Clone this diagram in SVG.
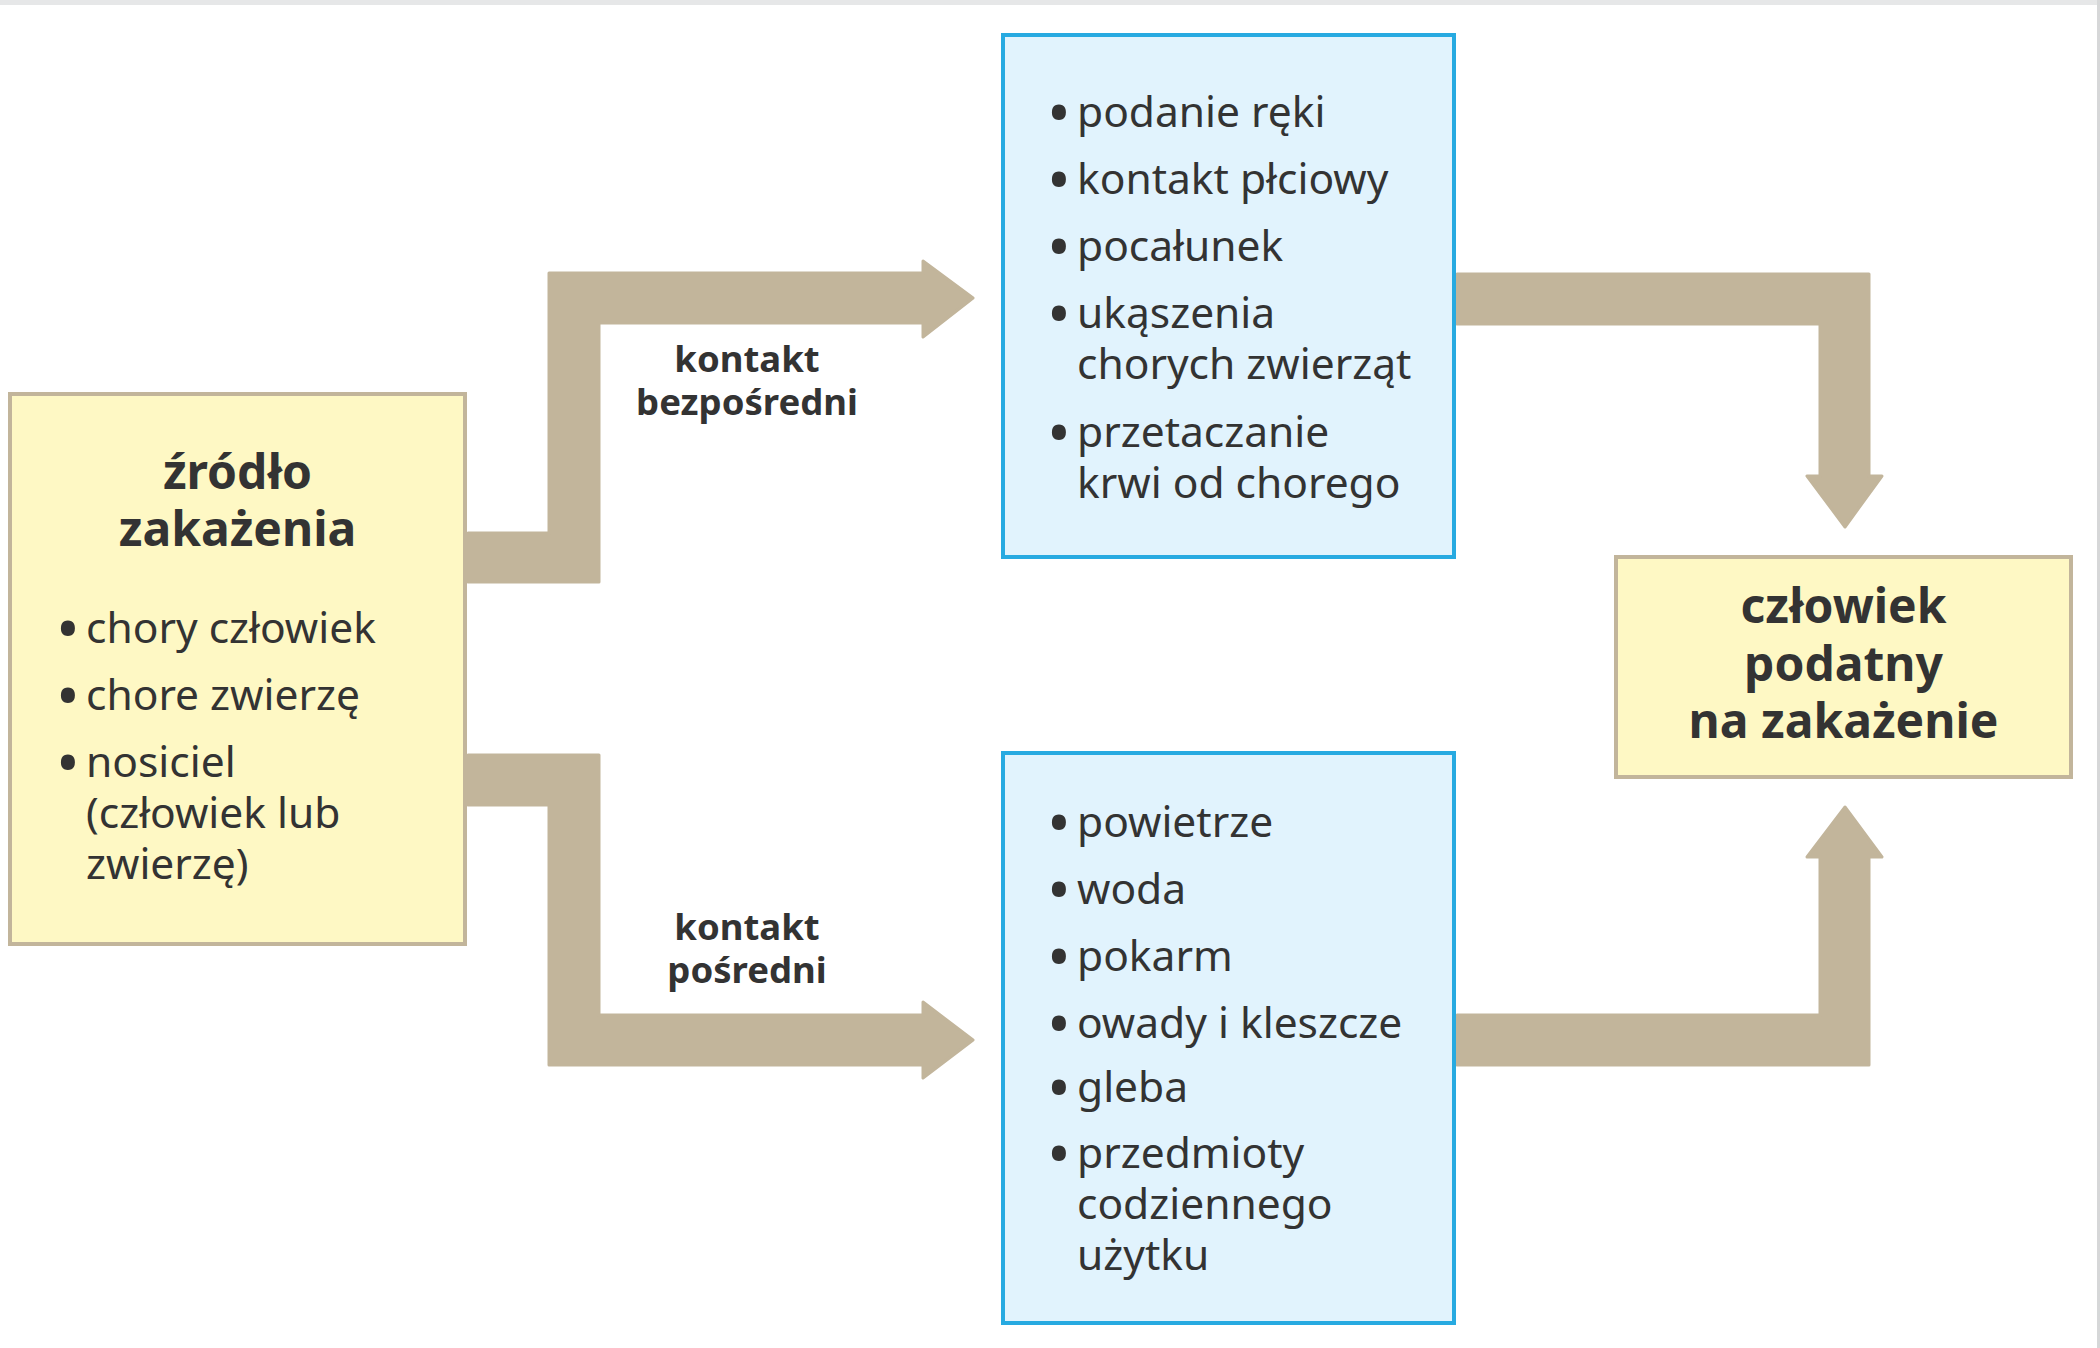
<svg xmlns="http://www.w3.org/2000/svg" width="2100" height="1348" viewBox="0 0 2100 1348">
  <style>
    .yel { fill: #fef8c4; stroke: #c2b59b; stroke-width: 4; }
    .blu { fill: #e1f3fd; stroke: #27aae1; stroke-width: 4; }
    .arr { fill: #c2b59b; stroke: #c2b59b; stroke-width: 3; stroke-linejoin: round; }
    .t { font-family: "Noto Sans", "Open Sans", sans-serif; fill: #333333; }
    .title { font-size: 48px; font-weight: bold; text-anchor: middle; }
    .item { font-size: 42.5px; }
    .dot { font-size: 50px; font-weight: bold; text-anchor: middle; }
    .lbl { font-size: 36.5px; font-weight: bold; text-anchor: middle; }
  </style>
  <rect x="0" y="0" width="2100" height="1348" fill="#ffffff"/>
  <rect x="0" y="0" width="2100" height="5" fill="#e6e7e8"/>
  <rect x="2097" y="0" width="3" height="1348" fill="#d6d7d8"/>

  <g id="connectors">
    <polygon class="arr" points="468,533 549,533 549,273 923,273 923,261 973,298 923,337 923,323 599,323 599,582 468,582"/>
    <polygon class="arr" points="468,755 599,755 599,1015 923,1015 923,1002 973,1040 923,1078 923,1065 549,1065 549,805 468,805"/>
    <polygon class="arr" points="1457,274 1869,274 1869,476 1882,476 1845,527 1807,476 1820,476 1820,324 1457,324"/>
    <polygon class="arr" points="1457,1015 1820,1015 1820,857 1807,857 1845,807 1882,857 1869,857 1869,1065 1457,1065"/>
    <g id="label-direct" class="t lbl">
      <text x="747" y="372">kontakt</text>
      <text x="747" y="415">bezpośredni</text>
    </g>
    <g id="label-indirect" class="t lbl">
      <text x="747" y="940">kontakt</text>
      <text x="747" y="983">pośredni</text>
    </g>
  </g>

  <g id="source">
    <rect class="yel" x="10" y="394" width="455" height="550"/>
    <text class="t title" x="237.5" y="489">źródło</text>
    <text class="t title" x="237.5" y="546">zakażenia</text>
    <text class="t dot" x="68" y="647">•</text>
    <text class="t item" x="86" y="643">chory człowiek</text>
    <text class="t dot" x="68" y="714">•</text>
    <text class="t item" x="86" y="710">chore zwierzę</text>
    <text class="t dot" x="68" y="781">•</text>
    <text class="t item" x="86" y="777">nosiciel</text>
    <text class="t item" x="86" y="828">(człowiek lub</text>
    <text class="t item" x="86" y="879">zwierzę)</text>
  </g>

  <g id="direct-routes">
    <rect class="blu" x="1003" y="35" width="451" height="522"/>
    <text class="t dot" x="1059" y="131">•</text>
    <text class="t item" x="1077" y="127">podanie ręki</text>
    <text class="t dot" x="1059" y="198">•</text>
    <text class="t item" x="1077" y="194">kontakt płciowy</text>
    <text class="t dot" x="1059" y="265">•</text>
    <text class="t item" x="1077" y="261">pocałunek</text>
    <text class="t dot" x="1059" y="332">•</text>
    <text class="t item" x="1077" y="328">ukąszenia</text>
    <text class="t item" x="1077" y="379">chorych zwierząt</text>
    <text class="t dot" x="1059" y="451">•</text>
    <text class="t item" x="1077" y="447">przetaczanie</text>
    <text class="t item" x="1077" y="498">krwi od chorego</text>
  </g>

  <g id="indirect-routes">
    <rect class="blu" x="1003" y="753" width="451" height="570"/>
    <text class="t dot" x="1059" y="841">•</text>
    <text class="t item" x="1077" y="837">powietrze</text>
    <text class="t dot" x="1059" y="908">•</text>
    <text class="t item" x="1077" y="904">woda</text>
    <text class="t dot" x="1059" y="975">•</text>
    <text class="t item" x="1077" y="971">pokarm</text>
    <text class="t dot" x="1059" y="1042">•</text>
    <text class="t item" x="1077" y="1038">owady i kleszcze</text>
    <text class="t dot" x="1059" y="1106">•</text>
    <text class="t item" x="1077" y="1102">gleba</text>
    <text class="t dot" x="1059" y="1172">•</text>
    <text class="t item" x="1077" y="1168">przedmioty</text>
    <text class="t item" x="1077" y="1219">codziennego</text>
    <text class="t item" x="1077" y="1270">użytku</text>
  </g>

  <g id="target">
    <rect class="yel" x="1616" y="557" width="455" height="220"/>
    <text class="t title" x="1843.5" y="623">człowiek</text>
    <text class="t title" x="1843.5" y="681">podatny</text>
    <text class="t title" x="1843.5" y="738">na zakażenie</text>
  </g>
</svg>
